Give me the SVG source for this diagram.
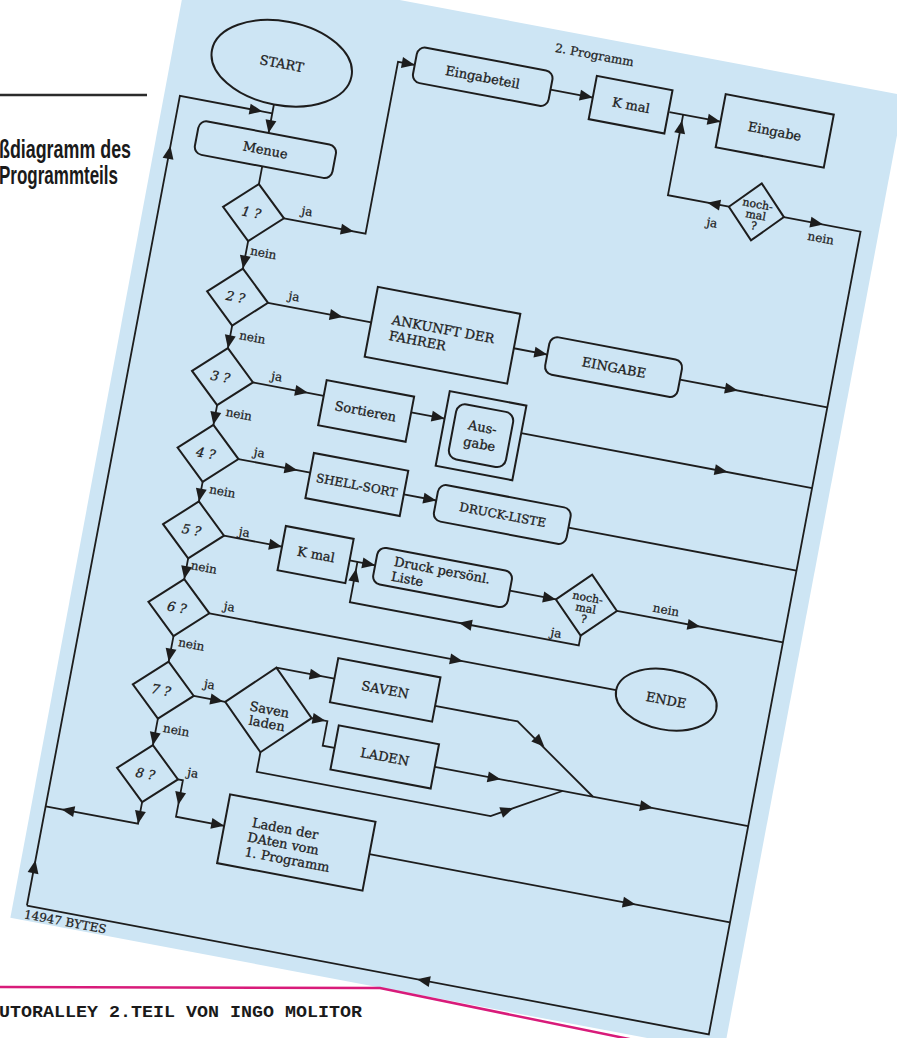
<svg xmlns="http://www.w3.org/2000/svg" width="897" height="1038" viewBox="0 0 897 1038">
<defs>
<style>
.ln{fill:none;stroke:#1d1d1d;stroke-width:1.8}
.bx{fill:none;stroke:#1d1d1d;stroke-width:2}
.t{font-family:"DejaVu Serif","Liberation Serif",serif;font-size:13px;fill:#1d1d1d;stroke:#1d1d1d;stroke-width:0.3;text-anchor:middle}
.s{font-size:12px}
.xs{font-size:11px}
.q{font-style:italic}
.l{font-family:"DejaVu Serif","Liberation Serif",serif;font-size:12px;fill:#1d1d1d;stroke:#1d1d1d;stroke-width:0.25}
.hd{font-family:"Liberation Sans",Arial,sans-serif;font-weight:bold;font-size:25px;fill:#1a1a1a}
</style>
<path id="ah" d="M0,0 L-13,-5.5 L-13,5.5 Z" fill="#1d1d1d"/>
</defs>
<rect width="897" height="1038" fill="#ffffff"/>
<line x1="0" y1="95" x2="147" y2="95" stroke="#2b2b2b" stroke-width="2.5"/>
<text class="hd" x="-1" y="158" textLength="132" lengthAdjust="spacingAndGlyphs">ßdiagramm des</text>
<text class="hd" x="-1" y="184" textLength="119" lengthAdjust="spacingAndGlyphs">Programmteils</text>

<g transform="rotate(10.7 448 519)">
<polygon points="90,18 818,18 818,992 92,992" fill="#cde5f4"/>

<g id="connectors">
<path class="ln" d="M200,144 V173"/>
<path class="ln" d="M106,977 V153 H200"/>
<path class="ln" d="M200,207 V225"/>
<path class="ln" d="M200,283 V311 M200,369 V392 M200,450 V470 M200,528 V548 M200,606 V627 M200,685 V711 M200,769 V796"/>
<path class="ln" d="M200,854 V876 H106"/>
<path class="ln" d="M231,254 H314 V79 H331"/>
<path class="ln" d="M469,78 H512"/>
<path class="ln" d="M590,78 H642"/>
<path class="ln" d="M604,78 V160 H666"/>
<path class="ln" d="M722,160 H800 V977 H106"/>
<path class="ln" d="M231,340 H336"/>
<path class="ln" d="M481,339 H515"/>
<path class="ln" d="M650,339 H800"/>
<path class="ln" d="M231,421 H303"/>
<path class="ln" d="M392,421 H426"/>
<path class="ln" d="M504,421 H800"/>
<path class="ln" d="M231,499 H304"/>
<path class="ln" d="M400,503 H433"/>
<path class="ln" d="M568,505 H800"/>
<path class="ln" d="M231,577 H290"/>
<path class="ln" d="M359,578 H385"/>
<path class="ln" d="M522,578 H569"/>
<path class="ln" d="M631,578 H800"/>
<path class="ln" d="M600,609 V619 H367 V578"/>
<path class="ln" d="M231,656 H645"/>
<path class="ln" d="M231,740 H263"/>
<path class="ln" d="M307,697 H366"/>
<path class="ln" d="M351,740 H367 V765 H379"/>
<path class="ln" d="M470,705 H554 L642,765"/>
<path class="ln" d="M481,765 H800"/>
<path class="ln" d="M307,783 V803 H545 L611,765"/>
<path class="ln" d="M231,825 H236 V862 H285"/>
<path class="ln" d="M433,863 H800"/>

<use href="#ah" transform="translate(200,173) rotate(90)"/>
<use href="#ah" transform="translate(190,153)"/>
<use href="#ah" transform="translate(106,204) rotate(-90)"/>
<use href="#ah" transform="translate(106,931) rotate(-90)"/>
<use href="#ah" transform="translate(200,311) rotate(90)"/>
<use href="#ah" transform="translate(200,392) rotate(90)"/>
<use href="#ah" transform="translate(200,470) rotate(90)"/>
<use href="#ah" transform="translate(200,548) rotate(90)"/>
<use href="#ah" transform="translate(200,627) rotate(90)"/>
<use href="#ah" transform="translate(200,711) rotate(90)"/>
<use href="#ah" transform="translate(200,796) rotate(90)"/>
<use href="#ah" transform="translate(200,876) rotate(90)"/>
<use href="#ah" transform="translate(122,876) rotate(180)"/>
<use href="#ah" transform="translate(302,254)"/>
<use href="#ah" transform="translate(331,79)"/>
<use href="#ah" transform="translate(512,78)"/>
<use href="#ah" transform="translate(642,78)"/>
<use href="#ah" transform="translate(604,84) rotate(-90)"/>
<use href="#ah" transform="translate(644,160) rotate(180)"/>
<use href="#ah" transform="translate(762,160)"/>
<use href="#ah" transform="translate(503,977) rotate(180)"/>
<use href="#ah" transform="translate(307,340)"/>
<use href="#ah" transform="translate(515,339)"/>
<use href="#ah" transform="translate(709,339)"/>
<use href="#ah" transform="translate(287,421)"/>
<use href="#ah" transform="translate(426,421)"/>
<use href="#ah" transform="translate(714,421)"/>
<use href="#ah" transform="translate(291,499)"/>
<use href="#ah" transform="translate(433,503)"/>
<use href="#ah" transform="translate(290,577)"/>
<use href="#ah" transform="translate(385,578)"/>
<use href="#ah" transform="translate(569,578)"/>
<use href="#ah" transform="translate(716,578)"/>
<use href="#ah" transform="translate(478,619) rotate(180)"/>
<use href="#ah" transform="translate(367,585) rotate(-90)"/>
<use href="#ah" transform="translate(489,656)"/>
<use href="#ah" transform="translate(261,740)"/>
<use href="#ah" transform="translate(354,697)"/>
<use href="#ah" transform="translate(365,740)"/>
<use href="#ah" transform="translate(585,725) rotate(34.3)"/>
<use href="#ah" transform="translate(548,765)"/>
<use href="#ah" transform="translate(703,765)"/>
<use href="#ah" transform="translate(566,791) rotate(-30)"/>
<use href="#ah" transform="translate(236,850) rotate(90)"/>
<use href="#ah" transform="translate(285,862)"/>
<use href="#ah" transform="translate(704,863)"/>

<text class="l" x="247" y="247">ja</text>
<text class="l" x="204" y="296">nein</text>
<text class="l" x="250" y="333">ja</text>
<text class="l" x="209" y="381">nein</text>
<text class="l" x="248" y="415">ja</text>
<text class="l" x="210" y="459">nein</text>
<text class="l" x="245" y="493">ja</text>
<text class="l" x="208" y="538">nein</text>
<text class="l" x="245" y="574">ja</text>
<text class="l" x="204" y="616">nein</text>
<text class="l" x="244" y="650">ja</text>
<text class="l" x="206" y="694">nein</text>
<text class="l" x="239" y="730">ja</text>
<text class="l" x="207" y="781">nein</text>
<text class="l" x="239" y="820">ja</text>
<text class="l" x="647" y="183">ja</text>
<text class="l" x="749" y="178">nein</text>
<text class="l" x="570" y="615">ja</text>
<text class="l" x="666" y="572">nein</text>
<text class="l" x="466" y="40">2. Programm</text>
<text class="l" x="105" y="990">14947 BYTES</text>
</g>

<g id="n-start"><ellipse class="bx" cx="200" cy="102" rx="71" ry="42"/><text class="t" x="200" y="107">START</text></g>
<g id="n-menue"><rect class="bx" x="130" y="173" width="140" height="34" rx="8"/><text class="t" x="200" y="195">Menue</text></g>
<g id="n-q1"><polygon class="bx" points="169,254 200,225 231,254 200,283"/><text class="t q" x="198" y="259">1 ?</text></g>
<g id="n-q2"><polygon class="bx" points="169,340 200,311 231,340 200,369"/><text class="t q" x="198" y="345">2 ?</text></g>
<g id="n-q3"><polygon class="bx" points="169,421 200,392 231,421 200,450"/><text class="t q" x="198" y="426">3 ?</text></g>
<g id="n-q4"><polygon class="bx" points="169,499 200,470 231,499 200,528"/><text class="t q" x="198" y="504">4 ?</text></g>
<g id="n-q5"><polygon class="bx" points="169,577 200,548 231,577 200,606"/><text class="t q" x="198" y="582">5 ?</text></g>
<g id="n-q6"><polygon class="bx" points="169,656 200,627 231,656 200,685"/><text class="t q" x="198" y="661">6 ?</text></g>
<g id="n-q7"><polygon class="bx" points="169,740 200,711 231,740 200,769"/><text class="t q" x="198" y="745">7 ?</text></g>
<g id="n-q8"><polygon class="bx" points="169,825 200,796 231,825 200,854"/><text class="t q" x="198" y="830">8 ?</text></g>

<g id="n-eingabeteil"><rect class="bx" x="331" y="60" width="138" height="36" rx="8"/><text class="t" x="400" y="83">Eingabeteil</text></g>
<g id="n-kmal1"><rect class="bx" x="512" y="56" width="77" height="44"/><text class="t" x="551" y="83">K mal</text></g>
<g id="n-eingabe1"><rect class="bx" x="642" y="50" width="110" height="54"/><text class="t" x="697" y="82">Eingabe</text></g>
<g id="n-nochmal1"><polygon class="bx" points="666,160 694,131 722,160 694,189"/><text class="t xs" x="694" y="156">noch-</text><text class="t xs" x="694" y="167">mal</text><text class="t xs" x="694" y="178">?</text></g>

<g id="n-ankunft"><rect class="bx" x="336" y="304" width="145" height="71"/><text class="t" x="356" y="338" style="text-anchor:start">ANKUNFT DER</text><text class="t" x="356" y="354" style="text-anchor:start">FAHRER</text></g>
<g id="n-eingabe2"><rect class="bx" x="515" y="320" width="135" height="38" rx="8"/><text class="t" x="583" y="344">EINGABE</text></g>

<g id="n-sortieren"><rect class="bx" x="303" y="405" width="89" height="46"/><text class="t" x="347" y="433">Sortieren</text></g>
<g id="n-ausgabe"><rect class="bx" x="426" y="393" width="78" height="76"/><rect class="bx" x="436" y="403" width="58" height="56" rx="9"/><text class="t" x="465" y="427">Aus-</text><text class="t" x="465" y="444">gabe</text></g>

<g id="n-shellsort"><rect class="bx" x="304" y="479" width="96" height="46"/><text class="t s" x="352" y="507">SHELL-SORT</text></g>
<g id="n-druckliste"><rect class="bx" x="433" y="486" width="135" height="37" rx="8"/><text class="t s" x="501" y="509">DRUCK-LISTE</text></g>

<g id="n-kmal2"><rect class="bx" x="290" y="556" width="69" height="45"/><text class="t" x="325" y="583">K mal</text></g>
<g id="n-druckpers"><rect class="bx" x="385" y="559" width="137" height="37" rx="8"/><text class="t" x="403" y="575" style="text-anchor:start">Druck persönl.</text><text class="t" x="403" y="590" style="text-anchor:start">Liste</text></g>
<g id="n-nochmal2"><polygon class="bx" points="569,578 600,547 631,578 600,609"/><text class="t xs" x="600" y="574">noch-</text><text class="t xs" x="600" y="585">mal</text><text class="t xs" x="600" y="596">?</text></g>

<g id="n-ende"><ellipse class="bx" cx="696" cy="656" rx="51" ry="30"/><text class="t" x="696" y="661">ENDE</text></g>

<g id="n-savenladen"><polygon class="bx" points="263,740 307,697 351,740 307,783"/><text class="t" x="308" y="744">Saven</text><text class="t" x="308" y="758">laden</text></g>
<g id="n-saven"><rect class="bx" x="366" y="676" width="104" height="45"/><text class="t" x="418" y="703">SAVEN</text></g>
<g id="n-laden"><rect class="bx" x="379" y="742" width="102" height="45"/><text class="t" x="430" y="769">LADEN</text></g>

<g id="n-ladendaten"><rect class="bx" x="285" y="830" width="148" height="70"/><text class="t" x="312" y="858" style="text-anchor:start">Laden der</text><text class="t" x="310" y="873" style="text-anchor:start">DAten vom</text><text class="t" x="310" y="888" style="text-anchor:start">1. Programm</text></g>
</g>

<polyline points="0,987 380,988 634,1040" fill="none" stroke="#d81b7a" stroke-width="2.5"/>
<text x="-1" y="1017" font-family="'Liberation Mono','DejaVu Sans Mono',monospace" font-weight="bold" font-size="17" fill="#1a1a1a" textLength="363" lengthAdjust="spacingAndGlyphs">UTORALLEY 2.TEIL VON INGO MOLITOR</text>
</svg>
